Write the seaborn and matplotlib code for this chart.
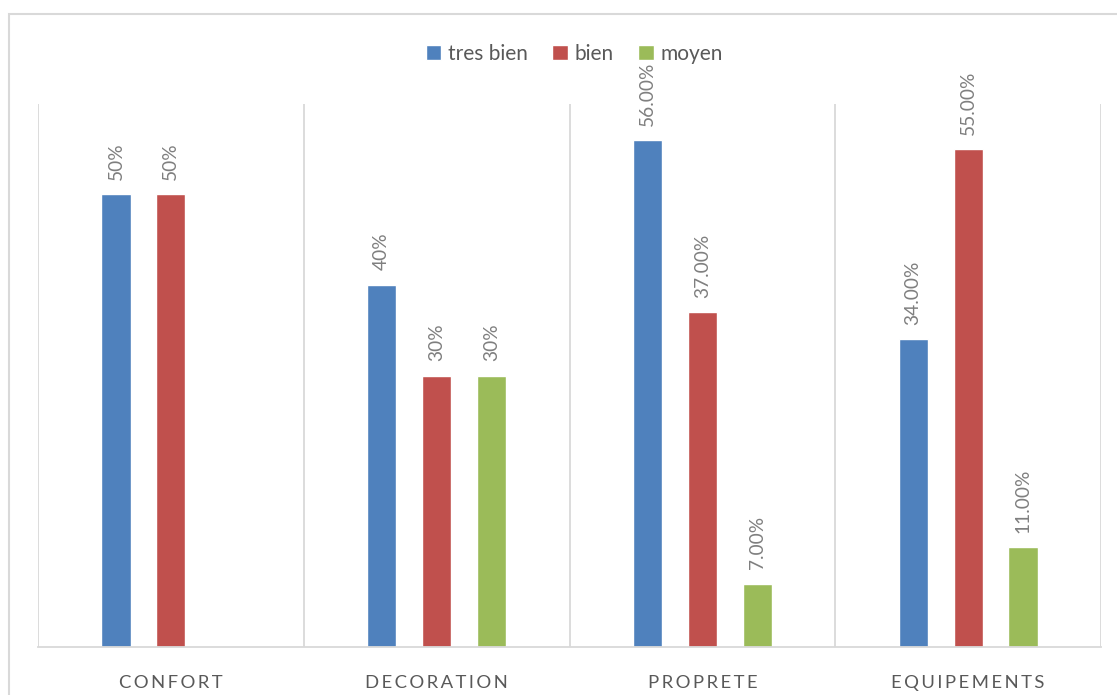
import numpy as np
import pandas as pd
import matplotlib.pyplot as plt
from matplotlib.patches import Rectangle
import seaborn as sns

categories = ["CONFORT", "DECORATION", "PROPRETE", "EQUIPEMENTS"]
series = ["tres bien", "bien", "moyen"]
tres_bien = [50, 40, 56, 34]
bien = [50, 30, 37, 55]
moyen = [np.nan, 30, 7, 11]
labels_tres_bien = ["50%", "40%", "56.00%", "34.00%"]
labels_bien = ["50%", "30%", "37.00%", "55.00%"]
labels_moyen = [None, "30%", "7.00%", "11.00%"]
colors = ["#4F81BD", "#C0504D", "#9BBB59"]

df = pd.DataFrame({
    "cat": categories * 3,
    "serie": [s for s in series for _ in categories],
    "val": tres_bien + bien + moyen,
})

sns.set_style("white")
plt.rcParams["font.family"] = ["Lato", "DejaVu Sans"]

fig = plt.figure(figsize=(11.17, 6.95), dpi=100)
ax = fig.add_axes([38 / 1117, 1 - 647 / 695, (1101 - 38) / 1117, (647 - 104) / 695])

sns.barplot(data=df, x="cat", y="val", hue="serie", order=categories,
            hue_order=series, palette=colors, width=0.62, gap=0.47,
            saturation=1, ax=ax)

# data labels, rotated like the excel chart
all_labels = [labels_tres_bien, labels_bien, labels_moyen]
for cont, labs in zip(ax.containers, all_labels):
    labs = [l for l in labs if l is not None]
    ax.bar_label(cont, labels=labs, rotation=90, padding=10.5,
                 color="#7F7F7F", fontsize=13.8)

ax.set_ylim(0, 60)
ax.set_xlim(-0.5, len(categories) - 0.5)
ax.vlines(np.arange(len(categories) + 1) - 0.5, 0, 60, color="#D9D9D9", lw=1.3)
ax.set_yticks([])
ax.set_xlabel("")
ax.set_ylabel("")
ax.set_xticks(range(len(categories)))
ax.set_xticklabels(["\u2009".join(c) for c in categories], color="#595959", fontsize=13.3)
ax.tick_params(axis="x", length=0, pad=20)
for s in ["top", "left", "right"]:
    ax.spines[s].set_visible(False)
ax.spines["bottom"].set_color("#D9D9D9")
ax.spines["bottom"].set_linewidth(1.3)

ax.legend(loc="center", bbox_to_anchor=(0.514, 1 - 54 / 695),
          bbox_transform=fig.transFigure, ncol=3, frameon=False,
          fontsize=15, handlelength=0.75, handleheight=0.75,
          handletextpad=0.3, columnspacing=1.2, labelcolor="#595959")

fig.patches.append(Rectangle((8.5 / 1117, -0.1), 1.2, 1.1 - 13.5 / 695,
                             transform=fig.transFigure, fill=False,
                             edgecolor="#D9D9D9", lw=1.5))

fig.savefig("out.png", dpi=100)
